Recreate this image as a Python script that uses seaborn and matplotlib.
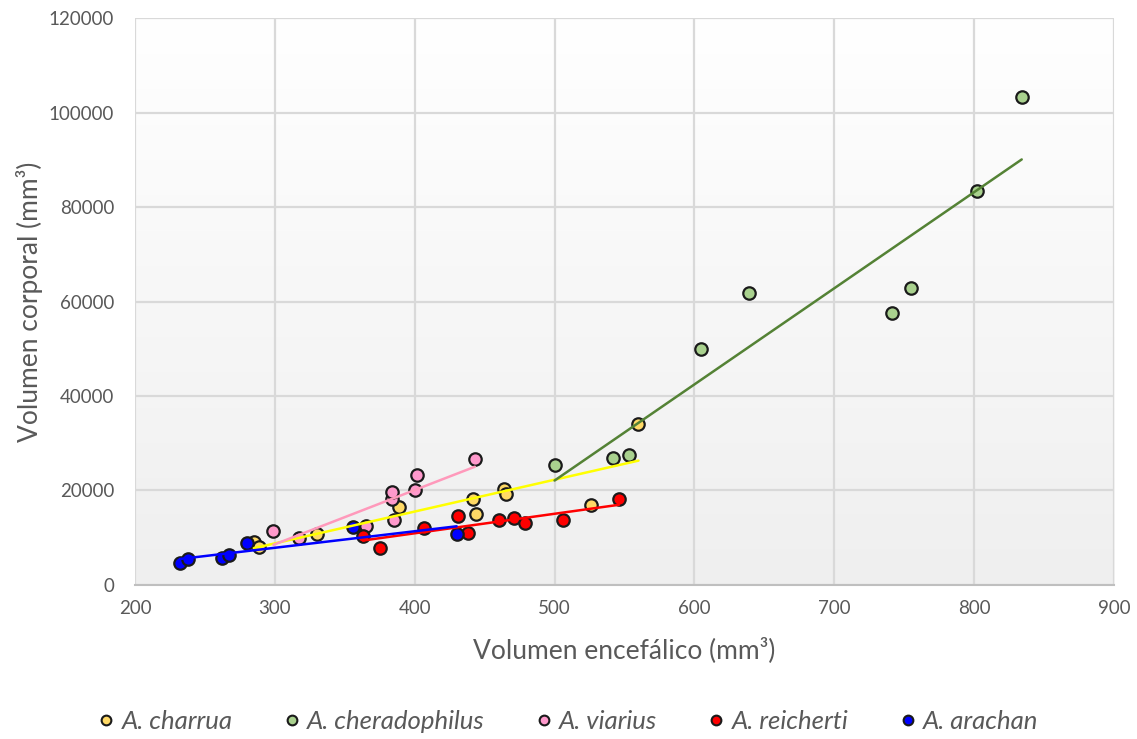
import numpy as np
import pandas as pd
import matplotlib
matplotlib.use("Agg")
import matplotlib.pyplot as plt
from matplotlib.lines import Line2D
import seaborn as sns

# ---- data ----
species = ["A. charrua", "A. cheradophilus", "A. viarius", "A. reicherti", "A. arachan"]

charrua_x = [285, 289, 330, 389, 442, 444, 464, 465, 526, 560]
charrua_y = [9200, 8100, 10700, 16600, 18300, 15000, 20300, 19300, 16900, 34100]

cheradophilus_x = [500, 542, 553, 605, 639, 741, 755, 802, 834]
cheradophilus_y = [25300, 26800, 27500, 50000, 61900, 57500, 62800, 83300, 103200]

viarius_x = [299, 317, 365, 385, 384, 384, 400, 402, 443]
viarius_y = [11400, 10000, 12500, 13800, 18200, 19700, 20100, 23200, 26600]

reicherti_x = [363, 375, 407, 431, 438, 460, 471, 479, 506, 546]
reicherti_y = [10400, 7900, 12100, 14700, 11000, 13800, 14200, 13100, 13800, 18100]

arachan_x = [232, 238, 262, 267, 280, 356, 430]
arachan_y = [4700, 5400, 5700, 6300, 8800, 12300, 10700]

xs = [charrua_x, cheradophilus_x, viarius_x, reicherti_x, arachan_x]
ys = [charrua_y, cheradophilus_y, viarius_y, reicherti_y, arachan_y]

marker_colors = ["#FFD966", "#A9D18E", "#FF99CC", "#FF0000", "#0000FF"]
line_colors = ["#FFFF00", "#548235", "#FF99BB", "#FF0000", "#0000FF"]

x_ticks = [200, 300, 400, 500, 600, 700, 800, 900]
y_ticks = [0, 20000, 40000, 60000, 80000, 100000, 120000]

# ---- style ----
sns.set_style("white")
plt.rcParams["font.family"] = ["Lato", "DejaVu Sans"]
text_color = "#595959"

fig = plt.figure(figsize=(11.37, 7.39), dpi=100)
ax = fig.add_axes([0.1187, 0.2084, 0.8611, 0.7672])

# gradient plot-area background
grad = np.linspace(1.0, 0.0, 256).reshape(-1, 1)
ax.imshow(grad, extent=[200, 900, 0, 120000], aspect="auto",
          cmap=matplotlib.colors.LinearSegmentedColormap.from_list(
              "bg", ["#EFEFEF", "#FFFFFF"]), zorder=0, origin="upper")

frames = []
for name, x, y in zip(species, xs, ys):
    frames.append(pd.DataFrame({"x": x, "y": y, "species": name}))
df = pd.concat(frames, ignore_index=True)

for name, mc, lc in zip(species, marker_colors, line_colors):
    sub = df[df["species"] == name]
    sns.regplot(data=sub, x="x", y="y", ax=ax, ci=None, truncate=True,
                scatter_kws=dict(s=80, color=mc, edgecolor="#1a1a1a",
                                 linewidths=1.6, alpha=1, zorder=2),
                line_kws=dict(color=lc, lw=1.8, zorder=3))

ax.set_xlim(200, 900)
ax.set_ylim(0, 120000)
ax.set_xticks(x_ticks)
ax.set_yticks(y_ticks)
ax.set_xticklabels([str(v) for v in x_ticks])
ax.set_yticklabels([str(v) for v in y_ticks])

ax.grid(True, color="#D9D9D9", lw=1.6, zorder=0.5)
ax.set_axisbelow(True)
for s in ["top", "right", "left"]:
    ax.spines[s].set_visible(False)
ax.spines["bottom"].set_color("#BFBFBF")
ax.spines["bottom"].set_linewidth(1.5)

ax.tick_params(axis="both", length=0, labelsize=13.5, colors=text_color)
ax.tick_params(axis="x", pad=11)
ax.tick_params(axis="y", pad=15)

ax.set_xlabel("Volumen encefálico (mm³)", fontsize=19, color=text_color, labelpad=14)
ax.set_ylabel("Volumen corporal (mm³)", fontsize=19, color=text_color, labelpad=4)

handles = [Line2D([0], [0], marker="o", linestyle="none", markersize=7,
                  markerfacecolor=mc, markeredgecolor="#1a1a1a", markeredgewidth=1.5)
           for mc in marker_colors]
leg = fig.legend(handles, species, loc="center", bbox_to_anchor=(0.5, 0.024),
                 ncol=5, frameon=False, handlelength=0.6, handletextpad=0.3,
                 columnspacing=2.0,
                 prop=dict(style="italic", size=18.5))
for t in leg.get_texts():
    t.set_color(text_color)

fig.savefig("out.png", dpi=100)
